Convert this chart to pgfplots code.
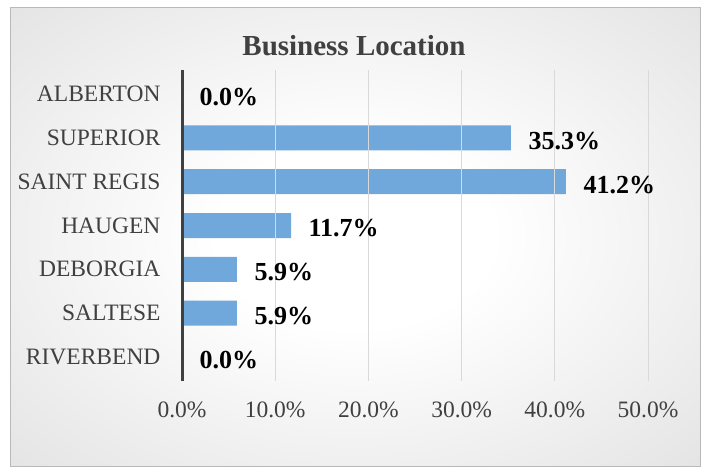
\documentclass[border=0pt]{standalone}
\usepackage{pgfplots}
\pgfplotsset{compat=1.18}
\usepackage{fontspec}
\setmainfont{Liberation Serif}
\definecolor{barblue}{RGB}{112,168,220}
\definecolor{labgray}{RGB}{64,64,64}
\definecolor{gridgray}{RGB}{217,217,217}
\definecolor{edgegray}{RGB}{190,190,190}
\definecolor{framegray}{RGB}{185,185,185}
\pgfdeclareradialshading{bgshade}{\pgfpoint{0bp}{0bp}}{color(0bp)=(white); color(10bp)=(white); color(72bp)=(edgegray)}
\begin{document}
\begin{tikzpicture}
\path[use as bounding box,fill=white] (0pt,0pt) rectangle (701pt,-469pt);
\shade[shading=bgshade,draw=framegray,line width=0.8pt] (10pt,-7pt) rectangle (700pt,-466pt);
\node[font=\fontsize{29}{33}\selectfont\bfseries,text=labgray] at (354pt,-46pt) {Business Location};
\begin{axis}[
  at={(182pt,-381pt)}, anchor=south west,
  scale only axis, width=466pt, height=311pt,
  xmin=0, xmax=50, ymin=-0.55, ymax=6.55,
  /pgf/number format/assume math mode=true,
  axis y line*=left, axis x line*=bottom,
  x axis line style={draw=none},
  y axis line style={line width=3pt,color=labgray,-},
  xtick={0,10,20,30,40,50},
  xticklabel={\pgfmathprintnumber[fixed,fixed zerofill,precision=1]{\tick}\%},
  ytick={0,1,2,3,4,5,6},
  yticklabels={RIVERBEND,SALTESE,DEBORGIA,HAUGEN,SAINT REGIS,SUPERIOR,ALBERTON},
  major tick length=0pt,
  tick style={draw=none},
  xmajorgrids, grid style={gridgray,line width=1pt},
  ticklabel style={font=\fontsize{23.5}{27}\selectfont,text=labgray},
  yticklabel style={xshift=-18pt},
  xticklabel style={yshift=-17pt},
  xbar, bar width=25pt,
  nodes near coords={\pgfmathprintnumber[fixed,fixed zerofill,precision=1]{\pgfplotspointmeta}\%},
  nodes near coords align={horizontal},
  every node near coord/.append style={font=\fontsize{26}{30}\selectfont\bfseries,text=black,xshift=14pt,yshift=-3pt},
  clip=false,
  axis on top,
]
\addplot[fill=barblue,draw=none] coordinates {(0,6) (35.3,5) (41.2,4) (11.7,3) (5.9,2) (5.9,1) (0,0)};
\end{axis}
\end{tikzpicture}
\end{document}
